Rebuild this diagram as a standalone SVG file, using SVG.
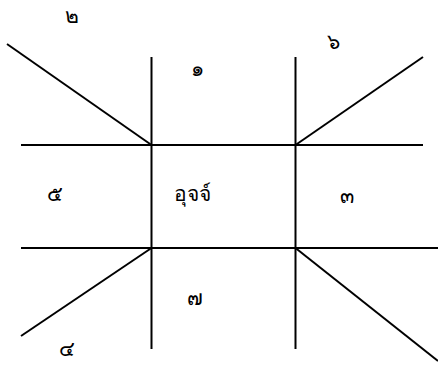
<svg xmlns="http://www.w3.org/2000/svg" width="438" height="369" viewBox="0 0 438 369">
<style>
.l{stroke:#000;stroke-width:2;fill:none}
text{font-family:"Noto Sans","DejaVu Sans",sans-serif;font-size:21px;fill:#000;text-anchor:middle;dominant-baseline:central}
</style>
<rect width="438" height="369" fill="#fff"/>
<g id="connectors">
<line class="l" x1="151.5" y1="57" x2="151.5" y2="349"/>
<line class="l" x1="295.5" y1="57" x2="295.5" y2="349"/>
<line class="l" x1="21" y1="145" x2="423" y2="145"/>
<line class="l" x1="21" y1="248" x2="438" y2="248"/>
<line class="l" x1="7" y1="44" x2="151.5" y2="145"/>
<line class="l" x1="295.5" y1="145" x2="423" y2="57"/>
<line class="l" x1="151.5" y1="248" x2="21" y2="336"/>
<line class="l" x1="295.5" y1="248" x2="438" y2="361"/>
</g>
<g id="n2"><text x="72" y="15">๒</text></g>
<g id="n6"><text x="333" y="41">๖</text></g>
<g id="n1"><text x="197" y="68">๑</text></g>
<g id="n5"><text x="55" y="193">๕</text></g>
<g id="center"><text x="192" y="193">อุจจ์</text></g>
<g id="n3"><text x="347" y="195">๓</text></g>
<g id="n7"><text x="195" y="297">๗</text></g>
<g id="n4"><text x="67" y="348">๔</text></g>
</svg>
